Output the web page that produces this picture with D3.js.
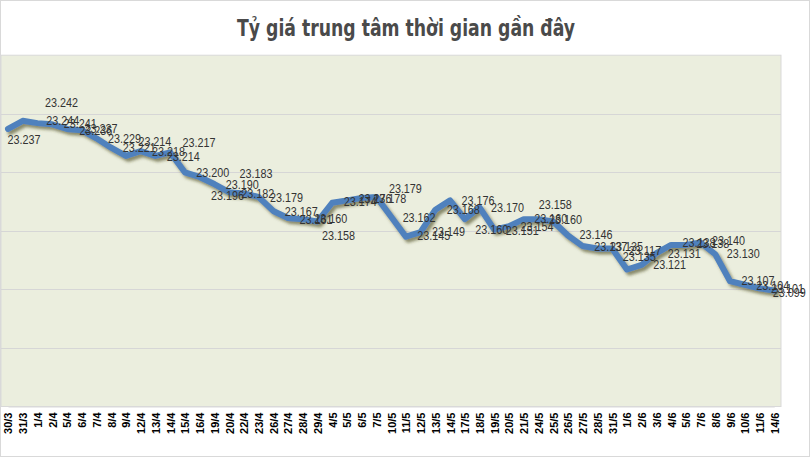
<!DOCTYPE html>
<html><head><meta charset="utf-8">
<script src="https://cdn.jsdelivr.net/npm/d3@7"></script>
<style>body{margin:0;background:#fff}svg{display:block}</style>
</head><body><svg id="c" width="811" height="458"></svg>
<script>
const titleText = "Tỷ giá trung tâm thời gian gần đây";
const dates = ["30/3","31/3","1/4","2/4","5/4","6/4","7/4","8/4","9/4","12/4","13/4","14/4","15/4","16/4","19/4","20/4","22/4","23/4","26/4","27/4","28/4","29/4","4/5","5/5","6/5","7/5","10/5","11/5","12/5","13/5","14/5","17/5","18/5","19/5","20/5","21/5","24/5","25/5","26/5","27/5","28/5","31/5","1/6","2/6","3/6","4/6","5/6","7/6","8/6","9/6","10/6","11/6","14/6"];
const rates = [23.237,23.244,23.242,23.241,23.237,23.236,23.229,23.221,23.214,23.218,23.214,23.217,23.200,23.196,23.190,23.183,23.182,23.179,23.167,23.161,23.160,23.158,23.174,23.176,23.178,23.179,23.162,23.145,23.149,23.168,23.176,23.160,23.170,23.151,23.154,23.160,23.160,23.158,23.146,23.137,23.135,23.135,23.117,23.121,23.131,23.138,23.138,23.140,23.130,23.107,23.104,23.101,23.099];
const yDomain = [23.0, 23.3];
const gridTicks = [23.05, 23.10, 23.15, 23.20, 23.25];
// layout only: nudges of each data label's centre from its point (px)
const labelDx = [16,40,24,28,34,14,28,28,29,28,28,29,28,28,28,27,14,28,28,28,28,21,28,28,28,29,28,28,28,28,28,27,28,28,28,27,27,2,28,28,29,27,18,28,28,28,27,28,28,28,28,28,15];
const labelDy = [10,0,-21,-1,-1,0,0,0,-15,0,0,-10,0,18,0,-19,0,0,0,1,-1,14,-1,-2,0,-9,1,-1,-1,0,0,10,0,1,0,-1,0,-17,-1,0,-2,8,-19,0,0,-3,-2,-2,-1,-1,1,0,2];

const svg = d3.select("#c");
const plot = {left:1, right:781, top:55.2, bottom:406.5};

svg.append("rect").attr("x",0.5).attr("y",0.5).attr("width",809).attr("height",456)
  .attr("fill","#fff").attr("stroke","#D9D9D9");

svg.append("text").attr("x",406).attr("y",36).attr("text-anchor","middle")
  .attr("font-family","'Liberation Sans Narrow','DejaVu Sans Condensed','Liberation Sans',sans-serif")
  .attr("font-weight","bold").attr("font-size",23).attr("fill","#4a4a4a")
  .attr("textLength",338).attr("lengthAdjust","spacingAndGlyphs")
  .text(titleText);

svg.append("rect").attr("x",plot.left).attr("y",plot.top)
  .attr("width",plot.right-plot.left).attr("height",plot.bottom-plot.top)
  .attr("fill","#EBEEDE").attr("stroke","#D9D9D9");

const x = d3.scalePoint().domain(dates).range([8, 774.25]);
const y = d3.scaleLinear().domain(yDomain).range([plot.bottom, plot.top]);

svg.append("g").selectAll("line").data(gridTicks).join("line")
  .attr("x1",plot.left).attr("x2",plot.right)
  .attr("y1",d=>Math.round(y(d))+0.5).attr("y2",d=>Math.round(y(d))+0.5)
  .attr("stroke","#D6D6D6").attr("stroke-width",1);

const xAxis = svg.append("g").attr("transform",`translate(0,${plot.bottom})`)
  .call(d3.axisBottom(x).tickSize(0));
xAxis.select(".domain").attr("stroke","#D9D9D9");
xAxis.selectAll("text")
  .attr("font-family","'Liberation Sans',Arial,sans-serif").attr("font-weight","bold")
  .attr("font-size",11).attr("fill","#000")
  .attr("text-anchor","end").attr("transform","rotate(-90)")
  .attr("x",-6).attr("y",0).attr("dy","0.36em");

const defs = svg.append("defs");
const f = defs.append("filter").attr("id","sh").attr("x","-10%").attr("y","-10%").attr("width","120%").attr("height","130%");
f.append("feDropShadow").attr("dx",2.5).attr("dy",3).attr("stdDeviation",1.6)
  .attr("flood-color","#4a4a1e").attr("flood-opacity",0.6);

const line = d3.line().x((d,i)=>x(dates[i])).y(d=>y(d));
svg.append("path").datum(rates).attr("d",line)
  .attr("fill","none").attr("stroke","#4F81BD").attr("stroke-width",6)
  .attr("stroke-linejoin","round").attr("stroke-linecap","round")
  .attr("filter","url(#sh)");

const fmt = d3.format(".3f");
svg.append("g").selectAll("text").data(rates).join("text")
  .attr("x",(d,i)=>x(dates[i])+labelDx[i])
  .attr("y",(d,i)=>y(d)+labelDy[i])
  .attr("dy","0.36em").attr("text-anchor","middle")
  .attr("font-family","'Liberation Sans',Arial,sans-serif").attr("font-size",13)
  .attr("fill","#333")
  .attr("textLength",33).attr("lengthAdjust","spacingAndGlyphs")
  .text(d=>fmt(d));
</script></body></html>
